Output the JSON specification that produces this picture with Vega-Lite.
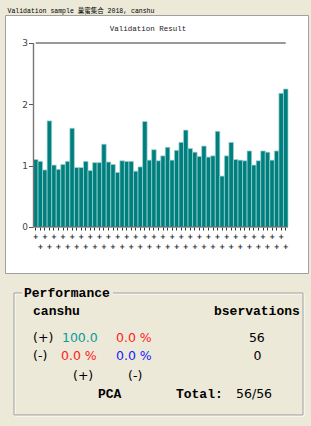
{
  "$schema": "https://vega.github.io/schema/vega-lite/v6.json",
  "background": "#ECE9D8",
  "padding": {"left": 4, "right": 4, "top": 8, "bottom": 0},
  "spacing": 0,
  "title": {"text": "Validation sample  巢蜜集合 2018, canshu", "anchor": "start", "font": "Liberation Mono, Noto Sans CJK SC", "fontSize": 6.5, "fontWeight": "normal", "color": "#000000", "offset": 0, "dx": 3},
  "config": {"view": {"stroke": null}},
  "vconcat": [
    {
      "width": 303,
      "height": 258,
      "view": {"fill": "#ffffff", "stroke": "#a0a0a0", "strokeWidth": 1},
      "title": {"text": "Validation Result", "font": "Liberation Mono", "fontSize": 7.5, "fontWeight": "normal", "color": "#222222", "offset": -17, "dx": -8.5, "frame": "group", "anchor": "middle"},
      "data": {"values": [
        {"i": 1, "v": 1.10}, {"i": 2, "v": 1.07}, {"i": 3, "v": 0.93}, {"i": 4, "v": 1.73}, {"i": 5, "v": 1.01},
        {"i": 6, "v": 0.94}, {"i": 7, "v": 1.02}, {"i": 8, "v": 1.07}, {"i": 9, "v": 1.61}, {"i": 10, "v": 0.97},
        {"i": 11, "v": 0.97}, {"i": 12, "v": 1.07}, {"i": 13, "v": 0.92}, {"i": 14, "v": 1.05}, {"i": 15, "v": 1.05},
        {"i": 16, "v": 1.35}, {"i": 17, "v": 1.06}, {"i": 18, "v": 1.02}, {"i": 19, "v": 0.89}, {"i": 20, "v": 1.08},
        {"i": 21, "v": 1.07}, {"i": 22, "v": 1.07}, {"i": 23, "v": 0.91}, {"i": 24, "v": 0.98}, {"i": 25, "v": 1.72},
        {"i": 26, "v": 1.09}, {"i": 27, "v": 1.26}, {"i": 28, "v": 1.08}, {"i": 29, "v": 1.16}, {"i": 30, "v": 1.30},
        {"i": 31, "v": 1.09}, {"i": 32, "v": 1.25}, {"i": 33, "v": 1.38}, {"i": 34, "v": 1.58}, {"i": 35, "v": 1.28},
        {"i": 36, "v": 1.22}, {"i": 37, "v": 1.15}, {"i": 38, "v": 1.32}, {"i": 39, "v": 1.14}, {"i": 40, "v": 1.16},
        {"i": 41, "v": 1.56}, {"i": 42, "v": 0.83}, {"i": 43, "v": 1.16}, {"i": 44, "v": 1.38}, {"i": 45, "v": 1.10},
        {"i": 46, "v": 1.09}, {"i": 47, "v": 1.08}, {"i": 48, "v": 1.24}, {"i": 49, "v": 1.01}, {"i": 50, "v": 1.08},
        {"i": 51, "v": 1.24}, {"i": 52, "v": 1.22}, {"i": 53, "v": 1.09}, {"i": 54, "v": 1.24}, {"i": 55, "v": 2.18},
        {"i": 56, "v": 2.25}
      ]},
      "layer": [
        {
          "mark": {"type": "bar", "fill": "#007f7f", "stroke": "#a8d4d4", "strokeWidth": 0.7},
          "encoding": {
            "x": {"field": "i", "type": "ordinal",
              "scale": {"paddingInner": 0, "paddingOuter": 0, "range": [28.5, 283]},
              "axis": {"orient": "bottom", "offset": -46, "title": null, "domain": false, "grid": false,
                "ticks": true, "tickSize": 3, "tickColor": "#333333", "tickWidth": 1,
                "labelExpr": "'+'", "labelAngle": 0, "labelOverlap": false, "labelFlush": false,
                "labelBaseline": "middle", "labelFont": "DejaVu Sans", "labelFontSize": 7, "labelFontWeight": "bold", "labelColor": "#222222",
                "labelPadding": {"condition": {"test": "datum.value % 2 == 0", "value": 16}, "value": 6}}},
            "y": {"field": "v", "type": "quantitative",
              "scale": {"domain": [-0.75, 3.4565], "nice": false, "zero": false},
              "axis": {"orient": "left", "offset": -28, "title": null, "values": [0, 1, 2, 3], "format": "d", "domain": false, "grid": false,
                "tickSize": 4.5, "tickColor": "#555555", "labelColor": "#444444", "labelFont": "DejaVu Sans", "labelFontSize": 9, "labelPadding": 1}},
            "y2": {"datum": 0}
          }
        },
        {
          "data": {"values": [{}]},
          "mark": {"type": "rule", "color": "#999999", "strokeWidth": 1.8},
          "encoding": {"x": {"datum": 1, "type": "ordinal"}, "x2": {"datum": 56}, "y": {"datum": 3}}
        },
        {
          "data": {"values": [{}]},
          "mark": {"type": "rule", "color": "#555555", "strokeWidth": 1},
          "encoding": {"x": {"datum": 1, "type": "ordinal", "bandPosition": 0}, "x2": {"datum": 56, "bandPosition": 1}, "y": {"datum": 0}}
        },
        {
          "data": {"values": [{}]},
          "mark": {"type": "rule", "color": "#777777", "strokeWidth": 1.4},
          "encoding": {"x": {"datum": 1, "type": "ordinal", "bandPosition": 0}, "y": {"datum": 0}, "y2": {"datum": 3}}
        }
      ]
    },
    {
      "width": 303,
      "height": 153,
      "view": {"stroke": null},
      "encoding": {
        "x": {"field": "col", "type": "quantitative", "scale": {"domain": [0, 40]}, "axis": null},
        "y": {"field": "row", "type": "quantitative", "scale": {"domain": [0, 8.5], "reverse": true}, "axis": null}
      },
      "layer": [
        {
          "data": {"values": [{"col": 1.32, "col2": 39.47, "row": 1.11, "row2": 7.89}]},
          "mark": {"type": "rect", "fill": null, "stroke": "#ffffff", "strokeWidth": 1},
          "encoding": {"x2": {"field": "col2"}, "y2": {"field": "row2"}}
        },
        {
          "data": {"values": [{"col": 1.19, "col2": 39.34, "row": 1.056, "row2": 7.83}]},
          "mark": {"type": "rect", "fill": null, "stroke": "#a0a0a0", "strokeWidth": 1},
          "encoding": {"x2": {"field": "col2"}, "y2": {"field": "row2"}}
        },
        {
          "data": {"values": [{"col": 2.24, "col2": 14.26, "row": 0.75, "row2": 1.35}]},
          "mark": {"type": "rect", "fill": "#ECE9D8"},
          "encoding": {"x2": {"field": "col2"}, "y2": {"field": "row2"}}
        },
        {
          "data": {"values": [
            {"t": "Performance", "col": 2.51, "row": 1.056},
            {"t": "canshu", "col": 3.70, "row": 2.056},
            {"t": "bservations", "col": 27.59, "row": 2.056},
            {"t": "PCA", "col": 12.28, "row": 6.67},
            {"t": "Total:", "col": 22.57, "row": 6.67}
          ]},
          "mark": {"type": "text", "align": "left", "baseline": "middle", "font": "Liberation Mono", "fontSize": 13, "fontWeight": "bold", "color": "#000000"},
          "encoding": {"text": {"field": "t"}}
        },
        {
          "data": {"values": [
            {"t": "(+)", "col": 3.70, "row": 3.556, "c": "k"},
            {"t": "100.0", "col": 7.52, "row": 3.556, "c": "teal"},
            {"t": "0.0 %", "col": 14.65, "row": 3.556, "c": "red"},
            {"t": "56", "col": 32.2, "row": 3.556, "c": "k"},
            {"t": "(-)", "col": 3.70, "row": 4.556, "c": "k"},
            {"t": "0.0 %", "col": 7.39, "row": 4.556, "c": "red"},
            {"t": "0.0 %", "col": 14.65, "row": 4.556, "c": "blue"},
            {"t": "0", "col": 32.8, "row": 4.556, "c": "k"},
            {"t": "(+)", "col": 8.98, "row": 5.667, "c": "k"},
            {"t": "(-)", "col": 16.24, "row": 5.667, "c": "k"},
            {"t": "56/56", "col": 30.5, "row": 6.667, "c": "k"}
          ]},
          "mark": {"type": "text", "align": "left", "baseline": "middle", "font": "DejaVu Sans", "fontSize": 12.5},
          "encoding": {
            "text": {"field": "t"},
            "color": {"field": "c", "type": "nominal", "scale": {"domain": ["k", "teal", "red", "blue"], "range": ["#000000", "#0a9a9a", "#ff1a1a", "#1a1aff"]}, "legend": null}
          }
        }
      ]
    }
  ]
}
